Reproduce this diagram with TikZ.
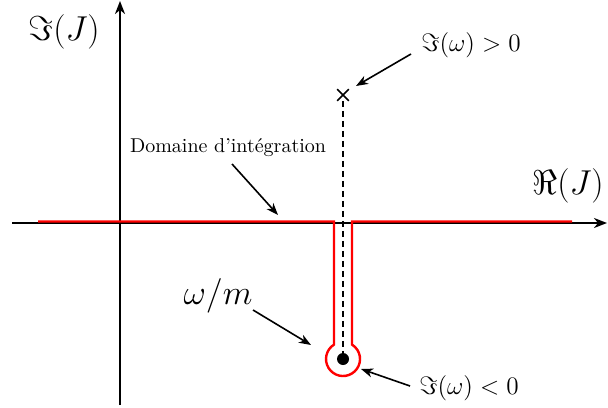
\documentclass[tikz,border=0pt]{standalone}
\usetikzlibrary{arrows.meta,shapes.misc}
\begin{document}
\begin{tikzpicture}[x=0.5pt,y=0.5pt,
  axis/.style={line width=1pt,-{Stealth[length=6.5pt,width=5pt,inset=2pt]}},
  note/.style={line width=0.8pt,-{Stealth[length=6pt,width=4.5pt,inset=1.8pt]}},
  contour/.style={red,line width=1.2pt},
  lbl/.style={inner sep=0pt}]
\useasboundingbox (0,0) rectangle (608,407);
% axes
\coordinate (xs) at (12,184);
\coordinate (xe) at (607,184);
\coordinate (ys) at (120,2);
\coordinate (ye) at (120,406);
\draw[axis] (xs) -- (xe);
\draw[axis] (ys) -- (ye);
% contour
\coordinate (c) at (343,48);
\coordinate (rl) at (38,185.5);
\coordinate (rr) at (572,185.5);
\draw[contour,line join=miter] (rl) -- (334,185.5) -- (334,62.4)
   arc[start angle=122,end angle=418,radius=17] -- (352,185.5) -- (rr);
% pole and cut
\node[cross out,draw,line width=0.8pt,minimum size=5pt,inner sep=0pt] (pole) at (343,312) {};
\node[circle,fill,inner sep=0pt,minimum size=6pt] (dot) at (c) {};
\draw[dashed,line width=0.7pt,dash pattern=on 3pt off 2pt] (pole) -- (dot);
% labels
\node[lbl] (imJ) at (64,375) {\LARGE $\Im(J)$};
\node[lbl] (reJ) at (568,221) {\LARGE $\Re(J)$};
\node[lbl] (pos) at (471,362) {\scalebox{1.05}{\fontsize{12.9}{15}\selectfont $\Im(\omega)>0$}};
\node[lbl] (neg) at (469,19) {\scalebox{1.05}{\fontsize{12.9}{15}\selectfont $\Im(\omega)<0$}};
\node[lbl] (dom) at (228,259) {Domaine d'int\'egration};
\node[lbl] (om) at (218,111) {\LARGE $\omega/m$};
% annotation arrows
\coordinate (a1s) at (411,353);
\coordinate (a1e) at (356,321);
\coordinate (a2s) at (232,243);
\coordinate (a2e) at (278,192);
\coordinate (a3s) at (253,97);
\coordinate (a3e) at (311,62);
\coordinate (a4s) at (410,21);
\coordinate (a4e) at (361,38);
\draw[note] (a1s) -- (a1e);
\draw[note] (a2s) -- (a2e);
\draw[note] (a3s) -- (a3e);
\draw[note] (a4s) -- (a4e);
\end{tikzpicture}
\end{document}
